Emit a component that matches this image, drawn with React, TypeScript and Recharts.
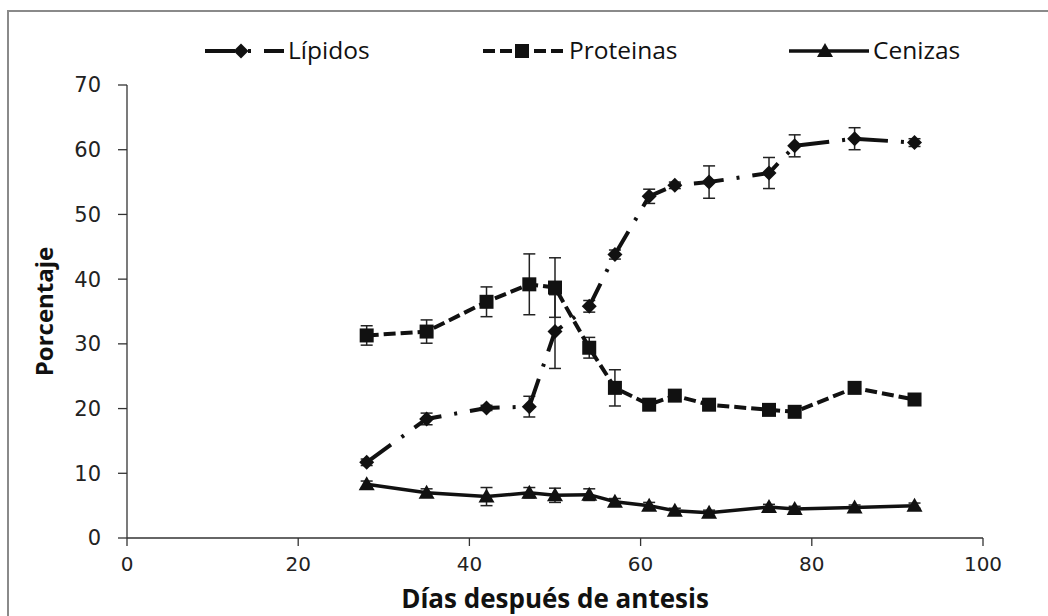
import React from "react";
import { LineChart, Line, XAxis, YAxis, ErrorBar } from "recharts";

const days = [28, 35, 42, 47, 50, 54, 57, 61, 64, 68, 75, 78, 85, 92];
const lipidos = [11.7, 18.4, 20.1, 20.3, 31.9, 35.8, 43.8, 52.8, 54.5, 55.0, 56.4, 60.6, 61.7, 61.1];
const lipidosErr = [0.5, 0.9, 0.4, 1.6, 5.7, 0.9, 0.7, 1.1, 0.5, 2.5, 2.4, 1.7, 1.7, 0.6];
const proteinas = [31.3, 31.9, 36.5, 39.2, 38.7, 29.4, 23.2, 20.6, 22.0, 20.6, 19.8, 19.5, 23.2, 21.4];
const proteinasErr = [1.5, 1.8, 2.3, 4.7, 4.6, 1.6, 2.8, 0.6, 0.5, 0.5, 0.5, 0.5, 0.6, 0.6];
const cenizas = [8.3, 7.0, 6.4, 7.0, 6.6, 6.7, 5.6, 5.0, 4.2, 3.9, 4.8, 4.5, 4.7, 5.0];
const cenizasErr = [0.5, 0.6, 1.4, 0.8, 1.1, 0.9, 0.5, 0.5, 0.4, 0.4, 0.4, 0.4, 0.4, 0.4];

const xTicks = [0, 20, 40, 60, 80, 100];
const yTicks = [0, 10, 20, 30, 40, 50, 60, 70];

const data = days.map((d, i) => ({
  day: d,
  lip: lipidos[i],
  lipErr: lipidosErr[i],
  prot: proteinas[i],
  protErr: proteinasErr[i],
  cen: cenizas[i],
  cenErr: cenizasErr[i],
}));

const FONT = "'Open Sans', sans-serif";
const TICK_FONT = "'DejaVu Sans', sans-serif";
const INK = "#111";

type Shape = "diamond" | "square" | "triangle";

function Marker({ cx, cy, shape }: { cx: number; cy: number; shape: Shape }) {
  if (cx == null || cy == null) return null;
  if (shape === "diamond") {
    return <path d={`M${cx},${cy - 7.5} L${cx + 7.5},${cy} L${cx},${cy + 7.5} L${cx - 7.5},${cy} Z`} fill={INK} />;
  }
  if (shape === "square") {
    return <rect x={cx - 7} y={cy - 7} width={14} height={14} fill={INK} />;
  }
  return <path d={`M${cx},${cy - 8} L${cx + 8},${cy + 6} L${cx - 8},${cy + 6} Z`} fill={INK} />;
}

const series = [
  { key: "lip", err: "lipErr", name: "Lípidos", dash: "30 13 3 13", width: 4, shape: "diamond" as Shape, lx: 205, lw: 79, mx: 241 },
  { key: "prot", err: "protErr", name: "Proteinas", dash: "12 5", width: 4, shape: "square" as Shape, lx: 483, lw: 82, mx: 522 },
  { key: "cen", err: "cenErr", name: "Cenizas", dash: undefined, width: 3.5, shape: "triangle" as Shape, lx: 789, lw: 80, mx: 825 },
];

function LegendOverlay() {
  const y = 51;
  return (
    <svg width={1048} height={100} style={{ position: "absolute", left: 0, top: 0 }}>
      {series.map((s) => (
        <g key={s.key}>
          <line x1={s.lx} x2={s.lx + s.lw} y1={y} y2={y} stroke={INK} strokeWidth={s.width} strokeDasharray={s.dash} />
          <Marker cx={s.mx} cy={y} shape={s.shape} />
          <text x={s.lx + s.lw + 4} y={y + 8} fontFamily={FONT} fontSize={24.5} fill={INK}>
            {s.name}
          </text>
        </g>
      ))}
    </svg>
  );
}

export default function App() {
  return (
    <div style={{ position: "fixed", left: 0, top: 0, width: 1048, height: 616, overflow: "hidden", background: "#fff" }}>
      <div
        style={{
          position: "absolute",
          left: 7,
          top: 10,
          width: 1080,
          height: 640,
          border: "2px solid #8a8a8a",
        }}
      />
      <LineChart width={1048} height={616} data={data} margin={{ top: 85, right: 65, bottom: 8, left: 67 }}>
        <XAxis
          dataKey="day"
          type="number"
          domain={[0, 100]}
          ticks={xTicks}
          tick={{ fill: "#222", fontSize: 20, fontFamily: TICK_FONT }}
          tickSize={8}
          tickMargin={11}
          axisLine={{ stroke: "#333", strokeWidth: 1.3 }}
          tickLine={{ stroke: "#333", strokeWidth: 1.3 }}
          height={70}
          label={{
            value: "Días después de antesis",
            position: "insideBottom",
            offset: 0,
            fill: INK,
            fontSize: 26,
            fontWeight: 700,
            fontFamily: FONT,
          }}
        />
        <YAxis
          type="number"
          domain={[0, 70]}
          ticks={yTicks}
          tick={{ fill: "#222", fontSize: 21, fontFamily: TICK_FONT }}
          tickSize={9}
          tickMargin={17}
          axisLine={{ stroke: "#333", strokeWidth: 1.3 }}
          tickLine={{ stroke: "#333", strokeWidth: 1.3 }}
          width={60}
          label={{
            value: "Porcentaje",
            angle: -90,
            position: "insideLeft",
            offset: -23,
            fill: INK,
            fontSize: 24,
            fontWeight: 700,
            fontFamily: FONT,
            style: { textAnchor: "middle" },
          }}
        />
        {series.map((s) => (
          <Line
            key={s.key}
            dataKey={s.key}
            name={s.name}
            stroke={INK}
            strokeWidth={s.width}
            strokeDasharray={s.dash}
            isAnimationActive={false}
            dot={(p: any) => <Marker key={`${s.key}-${p.index}`} cx={p.cx} cy={p.cy} shape={s.shape} />}
            activeDot={false}
          >
            <ErrorBar dataKey={s.err} width={6} strokeWidth={1.5} stroke="#222" direction="y" />
          </Line>
        ))}
      </LineChart>
      <LegendOverlay />
    </div>
  );
}
